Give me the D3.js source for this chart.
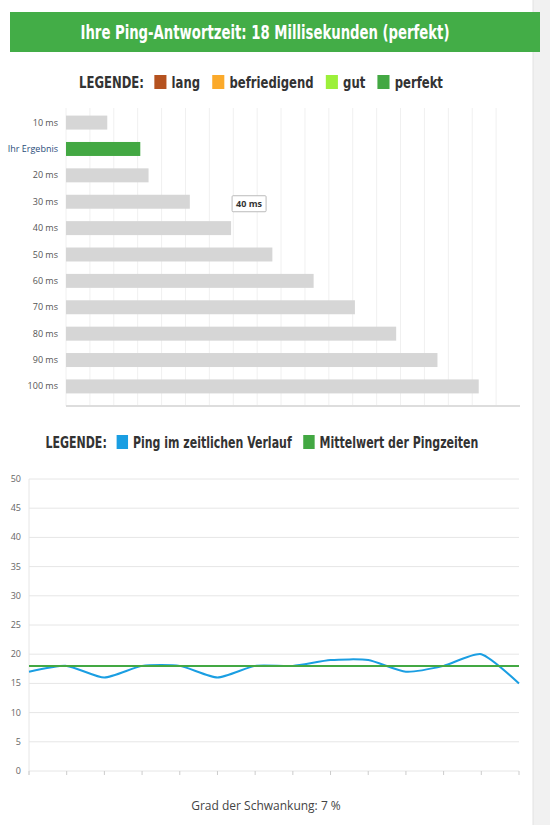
<!DOCTYPE html>
<html><head><meta charset="utf-8">
<script src="https://cdn.jsdelivr.net/npm/d3@7"></script>
<style>body{margin:0;background:#fff}svg{display:block}</style>
</head><body><svg id="c" width="550" height="825"></svg>
<script>
var barLabels = ['10 ms','Ihr Ergebnis','20 ms','30 ms','40 ms','50 ms','60 ms','70 ms','80 ms','90 ms','100 ms'];
var barValues = [10, 18, 20, 30, 40, 50, 60, 70, 80, 90, 100];
var legend1 = [['lang','#b5521f'],['befriedigend','#fbaa2b'],['gut','#9cf03a'],['perfekt','#43a843']];
var legend2 = [['Ping im zeitlichen Verlauf','#1a9ee2'],['Mittelwert der Pingzeiten','#43a843']];
var pingValues = [17, 18, 16, 18, 18, 16, 18, 18, 19, 19, 17, 18, 20, 15];
var meanPing = 18;
var yTicks = [0, 5, 10, 15, 20, 25, 30, 35, 40, 45, 50];

var svg = d3.select('#c');
var cond = '"Liberation Sans Narrow","DejaVu Sans Condensed",sans-serif';

// right grey strip
svg.append('rect').attr('x', 533).attr('y', 0).attr('width', 17).attr('height', 825).attr('fill', '#f1f1f1');
svg.append('line').attr('x1', 533).attr('x2', 533).attr('y1', 0).attr('y2', 825).attr('stroke', '#e2e2e2');

// title
svg.append('rect').attr('x', 10).attr('y', 12).attr('width', 530).attr('height', 40).attr('fill', '#43ad47');
svg.append('text').attr('x', 265).attr('y', 39).attr('text-anchor', 'middle').attr('fill', '#fff')
  .attr('textLength', 369).attr('lengthAdjust', 'spacingAndGlyphs')
  .style('font', 'bold 20px ' + cond).text('Ihre Ping-Antwortzeit: 18 Millisekunden (perfekt)');

function drawLegend(items, y, cx, totalW) {
  var g = svg.append('g').style('font', 'bold 15px ' + cond).attr('fill', '#333');
  var t = g.append('text').attr('y', y + 6).text('LEGENDE:');
  var x = t.node().getComputedTextLength() + 12;
  items.forEach(function(d) {
    g.append('rect').attr('x', x).attr('y', y - 7).attr('width', 14).attr('height', 14).attr('fill', d[1]);
    var tt = g.append('text').attr('x', x + 20).attr('y', y + 6).text(d[0]);
    x += 20 + tt.node().getComputedTextLength() + 14;
  });
  var w = x - 14;
  var s = Math.min(1, totalW / w);
  g.attr('transform', 'translate(' + (cx - w * s / 2) + ',0) scale(' + s + ',1)');
}
drawLegend(legend1, 82, 261, 364);
drawLegend(legend2, 442, 262, 433);

// bar chart
var x = d3.scaleLinear().domain([0, 110]).range([66, 520]);
var y = d3.scaleBand().domain(barLabels).range([109, 400]).paddingInner(0.47).paddingOuter(0.25);
var gridVals = d3.range(0, 19).map(function(i) { return i * 110 / 19; });
svg.append('g').selectAll('line').data(gridVals).join('line')
  .attr('x1', x).attr('x2', x).attr('y1', 108).attr('y2', 406).attr('stroke', '#f0f0f0');
svg.append('line').attr('x1', 66).attr('x2', 520).attr('y1', 406).attr('y2', 406).attr('stroke', '#ddd').attr('stroke-width', 2);
svg.append('g').selectAll('rect').data(barValues).join('rect')
  .attr('x', x(0)).attr('y', function(d, i) { return y(barLabels[i]); })
  .attr('width', function(d) { return x(d) - x(0); }).attr('height', y.bandwidth())
  .attr('fill', function(d, i) { return barLabels[i] === 'Ihr Ergebnis' ? '#43a843' : '#d6d6d6'; });
svg.append('g').selectAll('text').data(barLabels).join('text')
  .attr('x', 58).attr('y', function(d) { return y(d) + y.bandwidth() / 2 + 3; })
  .attr('text-anchor', 'end').style('font', '9px "Open Sans",sans-serif')
  .attr('fill', function(d) { return d === 'Ihr Ergebnis' ? '#2a4d7a' : '#555'; }).text(function(d) { return d; });
// tooltip
var tip = svg.append('g').attr('transform', 'translate(' + (x(40) + 1) + ',' + (y('30 ms') + 1) + ')');
tip.append('rect').attr('width', 34).attr('height', 16).attr('fill', '#fff').attr('stroke', '#bbb').attr('rx', 1);
tip.append('text').attr('x', 17).attr('y', 11.5).attr('text-anchor', 'middle').style('font', 'bold 9px "Open Sans",sans-serif').attr('fill', '#333').text('40 ms');

// line chart
var lx = d3.scaleLinear().domain([0, pingValues.length - 1]).range([29, 519]);
var ly = d3.scaleLinear().domain([0, 50]).range([771, 479]);
svg.append('g').selectAll('line').data(yTicks).join('line')
  .attr('x1', 29).attr('x2', 519).attr('y1', ly).attr('y2', ly).attr('stroke', '#e6e6e6');
svg.append('line').attr('x1', 29).attr('x2', 29).attr('y1', 479).attr('y2', 775).attr('stroke', '#e6e6e6');
svg.append('g').selectAll('line').data(d3.range(pingValues.length)).join('line')
  .attr('x1', lx).attr('x2', lx).attr('y1', 771).attr('y2', 775).attr('stroke', '#ccc');
svg.append('g').selectAll('text').data(yTicks).join('text')
  .attr('x', 21).attr('y', function(d) { return ly(d) + 3; }).attr('text-anchor', 'end')
  .style('font', '9px "Open Sans",sans-serif').attr('fill', '#666').text(function(d) { return d; });
svg.append('path').datum(pingValues)
  .attr('d', d3.line().x(function(d, i) { return lx(i); }).y(ly).curve(d3.curveCardinal.tension(0.4)))
  .attr('fill', 'none').attr('stroke', '#1a9ee2').attr('stroke-width', 2);
svg.append('line').attr('x1', 29).attr('x2', 519).attr('y1', ly(meanPing)).attr('y2', ly(meanPing))
  .attr('stroke', '#43a843').attr('stroke-width', 2);

svg.append('text').attr('x', 266).attr('y', 810).attr('text-anchor', 'middle')
  .style('font', '12px "Open Sans",sans-serif').attr('fill', '#444').text('Grad der Schwankung: 7 %');
</script></body></html>
